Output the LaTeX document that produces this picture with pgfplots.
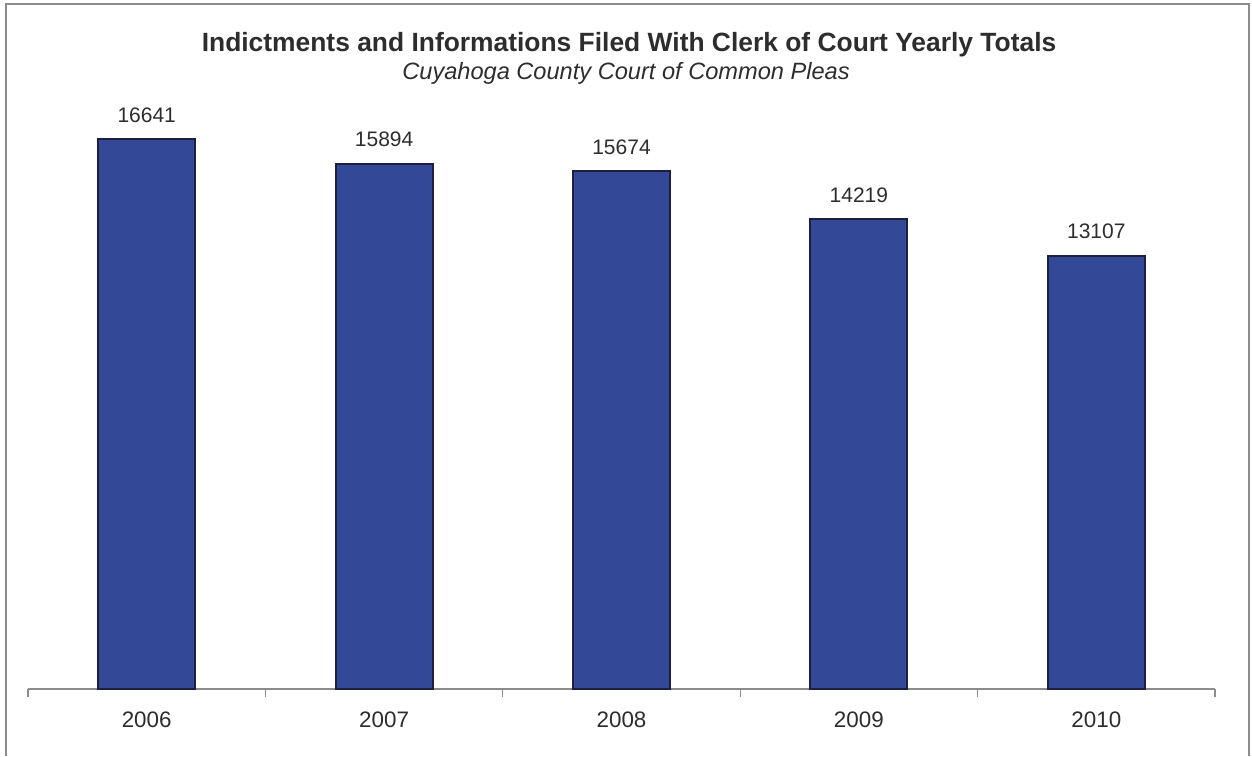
\documentclass[border=0pt]{standalone}
\usepackage{pgfplots}
\pgfplotsset{compat=1.18}
\usepackage{fontspec}
\setmainfont{Liberation Sans}
\definecolor{barfill}{RGB}{52,72,152}
\definecolor{baredge}{RGB}{28,32,62}
\definecolor{txt}{RGB}{45,45,45}
\definecolor{frame}{RGB}{140,140,140}
\begin{document}
\begin{tikzpicture}
\path[use as bounding box] (0pt,0pt) rectangle (626pt,378pt);
\draw[frame, line width=0.8pt] (3pt,0pt) -- (3pt,376pt) -- (624.5pt,376pt) -- (624.5pt,0pt);
\node[font=\bfseries\fontsize{13.2}{16}\selectfont, text=txt, anchor=base] at (314.5pt,352pt) {Indictments and Informations Filed With Clerk of Court Yearly Totals};
\node[font=\itshape\fontsize{11.8}{13}\selectfont, text=txt, anchor=base] at (313pt,338pt) {Cuyahoga County Court of Common Pleas};
\begin{axis}[
  at={(14pt,33.5pt)}, anchor=origin,
  scale only axis, width=593.5pt, height=297.5pt,
  xmin=0.5, xmax=5.5, ymin=0, ymax=18000,
  axis x line*=bottom, axis y line=none,
  ytick=\empty,
  xtick={1,2,3,4,5},
  xticklabels={2006,2007,2008,2009,2010},
  major tick length=0pt,
  extra x ticks={0.5,1.5,2.5,3.5,4.5,5.5},
  extra x tick labels={},
  extra x tick style={major tick length=4pt, tick align=outside, tick style={frame, line width=0.6pt}},
  x axis line style={frame, line width=0.6pt},
  xticklabel style={font=\fontsize{11.2}{12}\selectfont, text=txt, yshift=-7.75pt},
  clip=false,
  nodes near coords,
  nodes near coords style={font=\fontsize{10.5}{12}\selectfont, text=txt, anchor=south, yshift=4.5pt},
  point meta=explicit symbolic,
]
\addplot[ybar, bar width=48.5pt, fill=barfill, draw=baredge, line width=1pt]
  coordinates {(1,16641)[16641] (2,15894)[15894] (3,15674)[15674] (4,14219)[14219] (5,13107)[13107]};
\end{axis}
\end{tikzpicture}
\end{document}
